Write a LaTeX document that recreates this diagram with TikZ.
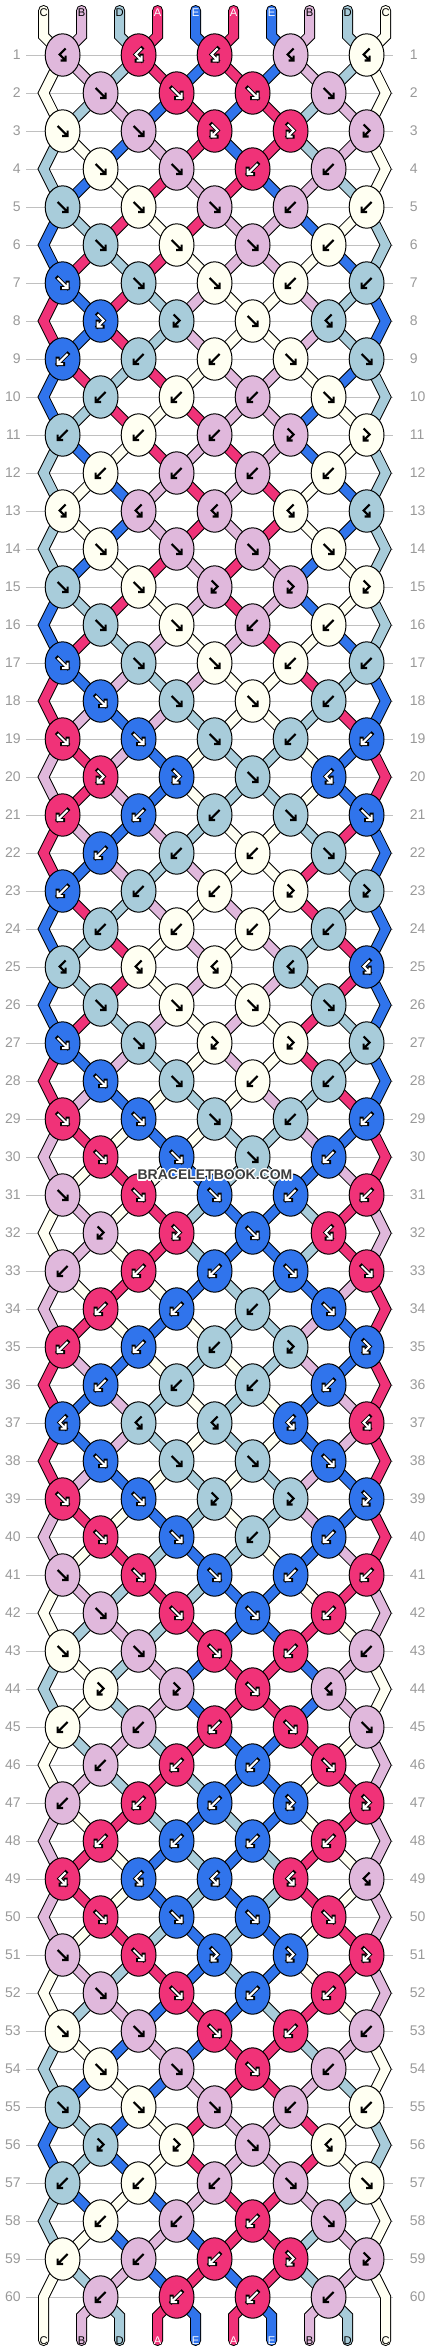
\documentclass[tikz,border=0pt]{standalone}
\usepackage{fontspec}
\setmainfont{Liberation Sans}
\usepackage[copies]{contour}
\usetikzlibrary{shapes.geometric}

\pgfdeclarelayer{background}
\pgfsetlayers{background,main}

\definecolor{strA}{HTML}{F03278}
\definecolor{strB}{HTML}{E0B8DC}
\definecolor{strC}{HTML}{FFFFF2}
\definecolor{strD}{HTML}{A8CCDA}
\definecolor{strE}{HTML}{3074EC}
\definecolor{rowline}{HTML}{C0C0C0}
\definecolor{rownum}{HTML}{999999}
\definecolor{markgray}{HTML}{3C3C3C}

\contourlength{0.6pt}

% knot rows, the 12 rows repeat five times
% f = forward, b = backward, F = forward-backward, B = backward-forward
\expandafter\def\csname pat1\endcsname{B,B,B,B,B}
\expandafter\def\csname pat2\endcsname{f,f,f,f}
\expandafter\def\csname pat3\endcsname{f,f,F,F,F}
\expandafter\def\csname pat4\endcsname{f,f,b,b}
\expandafter\def\csname pat5\endcsname{f,f,f,b,b}
\expandafter\def\csname pat6\endcsname{f,f,f,b}
\expandafter\def\csname pat7\endcsname{f,f,f,b,b}
\expandafter\def\csname pat8\endcsname{F,F,f,B}
\expandafter\def\csname pat9\endcsname{b,b,b,f,f}
\expandafter\def\csname pat10\endcsname{b,b,b,f}
\expandafter\def\csname pat11\endcsname{b,b,b,F,F}
\expandafter\def\csname pat12\endcsname{b,b,b,b}

\tikzset{
  knot/.style={ellipse, draw, line width=0.5pt, minimum width=17.4pt,
    minimum height=21.2pt, inner sep=0pt},
  strand/.style={draw=black, line width=0.5pt, double=str#1, double distance=4.5pt},
  glyph under/.style={draw=black, line width=1.1pt},
  glyph over/.style={},
  dark glyph/.style={glyph under/.style={draw=black, line width=2pt, line cap=rect},
    glyph over/.style={draw=white, line width=1pt}},
  cur glyph/.style={},
  rowlabel/.style={text=rownum, font=\fontsize{7}{8}\selectfont, inner sep=0pt},
  endlabel/.style={font=\fontsize{5.6}{6}\selectfont, inner sep=0pt},
  glf/.pic={\path[glyph under] (-5,-5) -- (5,5) (-0.5,5) -- (5,5) -- (5,-0.5);
    \path[glyph over] (-5,-5) -- (5,5) (-0.5,5) -- (5,5) -- (5,-0.5);},
  glb/.pic={\path[glyph under] (5,-5) -- (-5,5) (0.5,5) -- (-5,5) -- (-5,-0.5);
    \path[glyph over] (5,-5) -- (-5,5) (0.5,5) -- (-5,5) -- (-5,-0.5);},
  glF/.pic={\path[glyph under] (-3,-6.5) -- (3,-0.5) -- (-3,5.5) (2,5.5) -- (-3,5.5) -- (-3,0.5);
    \path[glyph over] (-3,-6.5) -- (3,-0.5) -- (-3,5.5) (2,5.5) -- (-3,5.5) -- (-3,0.5);},
  glB/.pic={\path[glyph under] (3,-6.5) -- (-3,-0.5) -- (3,5.5) (-2,5.5) -- (3,5.5) -- (3,0.5);
    \path[glyph over] (3,-6.5) -- (-3,-0.5) -- (3,5.5) (-2,5.5) -- (3,5.5) -- (3,0.5);},
}

\begin{document}
\begin{tikzpicture}[x=0.5pt, y=-0.5pt]
\useasboundingbox (0,0) rectangle (430,2352);

% string columns, loose ends and edge bends
\foreach \si in {1,...,10}{
  \pgfmathsetmacro\sx{43.6+38*(\si-1)}
  \coordinate (st-\si) at (\sx,10.5);
  \coordinate (sk-\si) at (\sx,36);
  \coordinate (sb-\si) at (\sx,2316);
  \coordinate (se-\si) at (\sx,2340.5);
}
\foreach \rw in {1,...,60}{
  \pgfmathsetmacro\ry{55+38*(\rw-1)}
  \coordinate (el-\rw) at (43.6,\ry);
  \coordinate (er-\rw) at (385.6,\ry);
}

% run the knots once to get the colours
\foreach \col [count=\si] in {C,B,D,A,E,A,E,B,D,C}
  {\expandafter\xdef\csname s\si\endcsname{\col}}
\foreach \rw in {1,...,60}{
  \pgfmathtruncatemacro\pr{mod(\rw-1,12)+1}
  \pgfmathtruncatemacro\first{2-mod(\rw,2)}
  \edef\knots{\csname pat\pr\endcsname}
  \foreach \kt [count=\kn] in \knots {
    \pgfmathtruncatemacro\ls{\first+2*(\kn-1)}
    \pgfmathtruncatemacro\rs{\ls+1}
    \edef\lc{\csname s\ls\endcsname}
    \edef\rc{\csname s\rs\endcsname}
    \def\kc{\lc}\def\nl{\rc}\def\nr{\lc}
    \if\kt b\def\kc{\rc}\fi
    \if\kt F\def\nl{\lc}\def\nr{\rc}\fi
    \if\kt B\def\kc{\rc}\def\nl{\lc}\def\nr{\rc}\fi
    \expandafter\xdef\csname kc-\rw-\kn\endcsname{\kc}
    \expandafter\xdef\csname ol-\rw-\kn\endcsname{\nl}
    \expandafter\xdef\csname or-\rw-\kn\endcsname{\nr}
    \expandafter\xdef\csname s\ls\endcsname{\nl}
    \expandafter\xdef\csname s\rs\endcsname{\nr}
  }
}

% knots
\foreach \rw in {1,...,60}{
  \pgfmathtruncatemacro\pr{mod(\rw-1,12)+1}
  \pgfmathsetmacro\ry{55+38*(\rw-1)}
  \pgfmathsetmacro\xo{mod(\rw,2)==1 ? 62.6 : 100.6}
  \edef\knots{\csname pat\pr\endcsname}
  \foreach \kt [count=\kn] in \knots {
    \pgfmathsetmacro\kx{\xo+76*(\kn-1)}
    \edef\kc{\csname kc-\rw-\kn\endcsname}
    \tikzset{cur glyph/.style={}}
    \if\kc A\tikzset{cur glyph/.style={dark glyph}}\fi
    \if\kc E\tikzset{cur glyph/.style={dark glyph}}\fi
    \node[knot, fill=str\kc] (k-\rw-\kn) at (\kx,\ry) {};
    \if\kt f\pic[cur glyph] at (k-\rw-\kn) {glf};\fi
    \if\kt b\pic[cur glyph] at (k-\rw-\kn) {glb};\fi
    \if\kt F\pic[cur glyph] at (k-\rw-\kn) {glF};\fi
    \if\kt B\pic[cur glyph] at (k-\rw-\kn) {glB};\fi
  }
}

\begin{pgfonlayer}{background}
  % row rules
  \foreach \rw in {1,...,60}{
    \pgfmathsetmacro\ry{55+38*(\rw-1)}
    \draw[rowline, line width=0.5pt] (26,\ry) -- (392.7,\ry);
  }
  % loose ends at the top
  \foreach \col [count=\si] in {C,B,D,A,E,A,E,B,D,C}{
    \pgfmathtruncatemacro\kn{(\si+1)/2}
    \draw[strand=\col, line cap=round] (st-\si) -- (sk-\si) -- (k-1-\kn.center);
  }
  % strands leaving each knot
  \foreach \rw in {1,...,60}{
    \pgfmathtruncatemacro\pr{mod(\rw-1,12)+1}
    \pgfmathtruncatemacro\nx{\rw+1}
    \pgfmathtruncatemacro\nxx{\rw+2}
    \edef\knots{\csname pat\pr\endcsname}
    \foreach \kt [count=\kn] in \knots {
      \edef\lo{\csname ol-\rw-\kn\endcsname}
      \edef\ro{\csname or-\rw-\kn\endcsname}
      \pgfmathtruncatemacro\km{\kn-1}
      \pgfmathtruncatemacro\kp{\kn+1}
      \ifodd\rw\relax
        \ifnum\kn=1\relax
          \ifnum\rw<59\relax
            \draw[strand=\lo] (k-\rw-1.center) -- (el-\nx) -- (k-\nxx-1.center);
          \else
            \draw[strand=\lo, line cap=round] (k-\rw-1.center) -- (el-\nx) -- (se-1);
          \fi
        \else
          \draw[strand=\lo] (k-\rw-\kn.center) -- (k-\nx-\km.center);
        \fi
        \ifnum\kn=5\relax
          \ifnum\rw<59\relax
            \draw[strand=\ro] (k-\rw-5.center) -- (er-\nx) -- (k-\nxx-5.center);
          \else
            \draw[strand=\ro, line cap=round] (k-\rw-5.center) -- (er-\nx) -- (se-10);
          \fi
        \else
          \draw[strand=\ro] (k-\rw-\kn.center) -- (k-\nx-\kn.center);
        \fi
      \else
        \ifnum\rw<60\relax
          \draw[strand=\lo] (k-\rw-\kn.center) -- (k-\nx-\kn.center);
          \draw[strand=\ro] (k-\rw-\kn.center) -- (k-\nx-\kp.center);
        \else
          \pgfmathtruncatemacro\ia{2*\kn}
          \pgfmathtruncatemacro\ib{2*\kn+1}
          \draw[strand=\lo, line cap=round] (k-\rw-\kn.center) -- (sb-\ia) -- (se-\ia);
          \draw[strand=\ro, line cap=round] (k-\rw-\kn.center) -- (sb-\ib) -- (se-\ib);
        \fi
      \fi
    }
  }
\end{pgfonlayer}

% string letters
\foreach \col [count=\si] in {C,B,D,A,E,A,E,B,D,C}{
  \pgfmathsetmacro\sx{43.6+38*(\si-1)}
  \def\tc{black}
  \if\col A\def\tc{white}\fi
  \if\col E\def\tc{white}\fi
  \node[endlabel, text=\tc] (tl-\si) at (\sx,12.7) {\col};
  \node[endlabel, text=\tc] (bl-\si) at (\sx,2340.7) {\col};
}

% row numbers
\foreach \rw in {1,...,60}{
  \pgfmathsetmacro\ry{55+38*(\rw-1)}
  \node[rowlabel, anchor=east] (ll-\rw) at (21,\ry) {\rw};
  \node[rowlabel, anchor=west] (lr-\rw) at (409.5,\ry) {\rw};
}

\node[font=\bfseries\fontsize{7}{8}\selectfont, text=markgray, inner sep=0pt]
  (mark) at (215,1175.7) {\contour{white}{BRACELETBOOK.COM}};
\end{tikzpicture}
\end{document}
